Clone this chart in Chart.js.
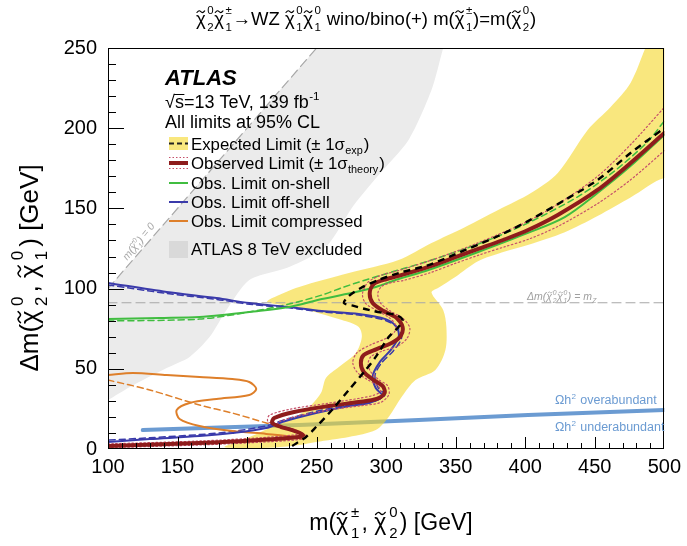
<!DOCTYPE html>
<html><head><meta charset="utf-8">
<script src="https://cdn.jsdelivr.net/npm/chart.js@4.4.0/dist/chart.umd.min.js"></script>
<style>html,body{margin:0;padding:0;background:#fff;}canvas{display:block;}</style>
</head><body>
<canvas id="c" width="687" height="546"></canvas>
<script>
const FONT = "'Liberation Sans', Arial, Helvetica, sans-serif";

// ---- axis ranges / ticks ----
const xRange = [100, 500];
const yRange = [0, 250];
const xMajorStep = 50, xMinorStep = 10;
const yMajorStep = 50, yMinorStep = 10;

// ---- data (m(chi1+-,chi2_0) [GeV], Delta m [GeV]) ----
const gray8TeV = [[96,96],[150,150],[200,200],[250,250],[262,262],[345,262],[341,250],[332.6,223.8],[316.1,192.6],[294.6,170.8],[276.7,152],[256.7,126],[230.2,113.5],[201.6,105.4],[185.2,86.7],[173,69.8],[158.7,57.4],[142.2,50.5],[115.7,38.7],[100,30.5],[96,28.5]];
const yellowBand = [[489,255],[486.4,250],[475.7,228.2],[461.4,213.2],[444.9,198.9],[423.4,172.1],[404.1,159.6],[380.5,149],[356.9,138.4],[332.6,128.4],[308.9,117.8],[273.2,109.7],[237.4,101],[218.1,94.1],[214.5,91.6],[237.4,87.9],[268.2,80.4],[280.3,76.1],[282.5,69.8],[278.2,59.9],[266,51.1],[256.7,44.3],[253.1,34.9],[242.4,24.3],[230.2,18.1],[215.9,13.1],[205.2,8.7],[192.3,4.4],[183.7,1.2],[200,0.4],[220,0.9],[237.4,2.5],[249.6,4.4],[273.2,7.5],[292.5,11.8],[301.8,20],[311.1,32.4],[321.1,43],[335.4,49.3],[342.6,61.7],[343.3,76.1],[341,86.7],[332.6,97.5],[337.6,100.5],[349.7,107.2],[366,117],[383,122.5],[403,127.5],[428,135],[452,145.3],[476,157],[500,169],[506,163],[506,255]];
const expected = [[232.4,1.9],[242.4,7.5],[249.6,13.7],[261,24.3],[273.2,36.8],[285.3,49.3],[292.5,57.4],[301.8,69.8],[308.9,76.1],[311.8,80.4],[307.5,83.5],[298.2,84.8],[287.5,86.7],[276.7,89.2],[269.6,91],[273.2,95.4],[281.8,100.4],[294.6,105.4],[308.9,109.7],[330.4,114.7],[356.9,124.1],[380.5,132.8],[402,142.1],[428.4,155.2],[452,167.7],[475.7,184.5],[500,200.1]];
const observed = [[100,1.9],[165.8,3.7],[208.8,5.6],[237.4,7.5],[240.2,8.7],[234.5,11.2],[224.5,13.7],[218.1,16.2],[219.5,19.3],[233.8,23.1],[258.9,26.8],[280.3,29.3],[293.2,31.2],[298.9,34.9],[297.5,39.3],[291.1,43],[283.9,48],[281.8,53.6],[283.9,58.6],[293.2,62.3],[303.9,66.1],[310.4,70.4],[311.8,76.1],[307.5,81.7],[298.2,86],[290.3,91],[288.2,97.3],[291.1,102.9],[300.4,106],[308.9,107.9],[330.4,113.5],[348.3,119.1],[366.2,124.7],[384.1,130.3],[402,136.5],[423.4,145.9],[452,161.5],[475.7,178.3],[500,197]];
const obsTheoryUp = [[100,3.2],[166,5],[209,7],[236,9],[238,10],[233,12.5],[223,15],[215,17],[216,21],[232,25],[258,28.5],[280,31.5],[291,33.5],[296,36],[294,39.5],[287,43],[279,48],[276,54],[279,60],[289,65],[300,69],[306,73],[307,77],[302,82],[293,86.5],[285,91],[283,97],[287,104],[297,108.5],[308,111],[330,117],[348,122.5],[366,128.5],[384,135],[402,142],[424,153],[452,170],[476,190],[500,213]];
const obsTheoryDown = [[100,0.8],[166,2.5],[209,4.2],[238,6],[243,8],[238,10.5],[228,12.5],[222,15],[223,17],[236,20.5],[260,24.5],[282,27],[296,29],[302,34],[301,39.5],[295,43],[289,48],[287,53],[289,57.5],[297,61],[308,64],[315,69],[317,75.5],[312,81.5],[303,86],[296,91],[294,97],[297,101.5],[305,104],[312,105],[332,110],[349,115.5],[367,121],[385,126],[403,131],[424,139],[452,153],[476,168],[500,186]];
const onShellObs = [[100,81],[137.2,81.7],[165.8,82.3],[182.3,83.5],[201.6,85.4],[230.2,88.5],[253.8,93.5],[278.2,97.9],[292.5,101],[308.9,106],[330.4,111.6],[366.2,122.8],[402,134.7],[428.4,144.6],[452,159.6],[475.7,176.4],[500,195.8]];
const onShellExp = [[100,79.8],[165.8,81],[201.6,85.4],[230.2,90.4],[253.8,96],[269.6,101],[294.6,107.9],[330.4,117.2],[366.2,127.8],[392.7,137.2],[416.3,147.1],[439.9,158.4],[464.2,173.3],[487.8,191.4],[500,204.5]];
const offShellObs = [[100,103.5],[142.2,97.9],[178,94.1],[201.6,91],[230.2,88.5],[253.8,86],[280.3,84.2],[299.6,81],[307.5,76.1],[309,69.8],[303.2,61.7],[295.4,54.2],[290.3,45.5],[292.5,38],[297.5,33],[287.5,28.7],[273.2,26.8],[249.6,22.4],[225.2,16.8],[213.8,13.1],[189.4,10],[165.8,8.1],[130.1,6.2],[100,4.4]];
const offShellExp = [[100,102.3],[142,97],[178,93.3],[202,90.2],[230,88],[254,85.5],[280,83.5],[300,80],[309,75],[311,69],[305,61],[297,54],[292,46],[294,38.5],[299,33.5],[289,29],[274,27.5],[250,23.5],[226,18],[214,14.5],[190,11],[166,9],[130,7],[100,5.5]];
const compressedObs = [[100,46.1],[117.9,47.4],[142.2,46.1],[165.8,44.9],[189.4,43.6],[201.6,41.8],[206.6,37.4],[201.6,33.7],[178,31.2],[158.7,28.7],[149.4,24.3],[151.5,18.7],[165.8,14.3],[189.4,11.2],[213.8,9.4],[235.2,7.5],[239.5,6.2]];
const compressedExp = [[100,43],[130,36.8],[165.8,27.4],[189.4,22.4],[213.8,16.2],[237.4,10],[244.5,7.5]];
const omegaLine = [[125,11.8],[180,13.4],[237.4,15],[323.3,18.1],[402,21.2],[500,24.3]];
const mZLine = [[100,91.19],[500,91.19]];
const masslessLine = [[100,100],[250,250]];

const pts = a => a.map(p => ({x: p[0], y: p[1]}));

// ---- colours ----
const C = {
  gray: '#ebebeb', grayBox: '#d9d9d9', yellow: 'rgba(245,215,40,0.6)',
  obs: '#8e1c1c', dot: '#c5506a', green: '#40bd40', blue: '#3a3aaa',
  orange: '#de7f2a', omega: '#6b9bd2', ref: '#a8a8a8'
};

function ds(data, o) {
  return Object.assign({data: pts(data), pointRadius: 0, borderWidth: 2, fill: false, tension: 0.3, borderCapStyle: 'round', borderJoinStyle: 'round'}, o);
}

// ---- rich text helper ----
function drawTilde(ctx, cx, yt, w, s) {
  const a = 0.045 * s;
  ctx.save(); ctx.setLineDash([]); ctx.lineWidth = Math.max(0.8, 0.06 * s); ctx.lineCap = 'round';
  ctx.beginPath();
  ctx.moveTo(cx - w/2, yt + a);
  ctx.bezierCurveTo(cx - w/4, yt - 2*a, cx - w/8, yt - 1.2*a, cx, yt);
  ctx.bezierCurveTo(cx + w/8, yt + 1.2*a, cx + w/4, yt + 2*a, cx + w/2, yt - a);
  ctx.stroke(); ctx.restore();
}
function drawRich(ctx, parts, x, y, o) {
  const s = o.size, ss = s * (o.scriptScale || 0.65);
  const st = o.style ? o.style + ' ' : '';
  const fb = st + s + 'px ' + FONT, fs = st + ss + 'px ' + FONT;
  const supDy = o.supDy != null ? o.supDy * s : 0.45 * s;
  const subDy = o.subDy != null ? o.subDy * s : 0.28 * s;
  const gapK = o.gap != null ? o.gap : 0.06;
  const afterK = o.after != null ? o.after : 0.06;
  const italic = (o.style || '').includes('italic');
  const items = parts.map(p => {
    ctx.font = fb;
    if (typeof p === 'string') return {kind: 't', t: p, w: ctx.measureText(p).width};
    const base = p.chi ? 'χ' : (p.t || '');
    const wb = base ? ctx.measureText(base).width : 0;
    ctx.font = fs;
    const wu = p.sup ? ctx.measureText(p.sup).width : 0;
    const wd = p.sub ? ctx.measureText(p.sub).width : 0;
    const gap = base ? gapK * s : 0.02 * s;
    return {kind: 's', base, chi: p.chi, sup: p.sup, sub: p.sub, wb, gap, w: wb + gap + Math.max(wu, wd) + afterK * s};
  });
  const total = items.reduce((a, b) => a + b.w, 0);
  let cx = o.align === 'center' ? x - total/2 : (o.align === 'right' ? x - total : x);
  ctx.fillStyle = o.color || '#000'; ctx.strokeStyle = o.color || '#000';
  ctx.textAlign = 'left'; ctx.textBaseline = 'alphabetic';
  for (const it of items) {
    ctx.font = fb;
    if (it.kind === 't') { ctx.fillText(it.t, cx, y); cx += it.w; continue; }
    if (it.base) ctx.fillText(it.base, cx, y);
    if (it.chi) drawTilde(ctx, cx + it.wb * 0.5 + (italic ? 0.1 * s : 0), y - 0.72 * s, 0.42 * s, s);
    ctx.font = fs;
    const sx = cx + it.wb + it.gap;
    if (it.sup) ctx.fillText(it.sup, sx, y - supDy);
    if (it.sub) ctx.fillText(it.sub, sx, y + subDy);
    cx += it.w;
  }
  return total;
}

const decor = {
  id: 'decor',
  afterDraw(chart) {
    const ctx = chart.ctx, a = chart.chartArea, xs = chart.scales.x, ys = chart.scales.y;
    ctx.save();
    ctx.setLineDash([]); ctx.lineCap = 'butt'; ctx.globalAlpha = 1; ctx.globalCompositeOperation = 'source-over';
    // frame
    ctx.strokeStyle = '#000'; ctx.lineWidth = 1;
    ctx.strokeRect(Math.round(a.left) + 0.5, Math.round(a.top) + 0.5, Math.round(a.right - a.left) - 1, Math.round(a.bottom - a.top) - 1);
    // ticks (inward, ROOT style) drawn as thin filled bars
    ctx.fillStyle = '#000';
    const L0 = Math.round(a.left), B0 = Math.round(a.bottom);
    for (let v = xRange[0]; v <= xRange[1]; v += xMinorStep) {
      const px = Math.round(xs.getPixelForValue(v));
      const L = (v % xMajorStep === 0) ? 12 : 6;
      ctx.fillRect(Math.min(px, Math.round(a.right) - 1), B0 - L, 1, L);
    }
    for (let v = yRange[0]; v <= yRange[1]; v += yMinorStep) {
      const py = Math.round(ys.getPixelForValue(v));
      const L = (v % yMajorStep === 0) ? 16 : 8;
      ctx.fillRect(L0, Math.min(py, B0 - 1), L, 1);
    }

    // title
    drawRich(ctx, [{chi:1,sup:'0',sub:'2'},{chi:1,sup:'±',sub:'1'},'→WZ ',{chi:1,sup:'0',sub:'1'},{chi:1,sup:'0',sub:'1'},' wino/bino(+) m(',{chi:1,sup:'±',sub:'1'},')=m(',{chi:1,sup:'0',sub:'2'},')'],
      366, 25, {size: 18.5, align: 'center', supDy: 0.6, subDy: 0.33, scriptScale: 0.62, gap: 0.08, after: 0.04});

    // axis titles
    drawRich(ctx, ['m(',{chi:1,sup:'±',sub:'1'},', ',{chi:1,sup:'0',sub:'2'},') [GeV]'], 391, 530, {size: 23, align: 'center', supDy: 0.58, subDy: 0.35, gap: 0.12, after: 0.1});
    ctx.save(); ctx.translate(38, 268); ctx.rotate(-Math.PI/2);
    drawRich(ctx, ['Δm(',{chi:1,sup:'0',sub:'2'},', ',{chi:1,sup:'0',sub:'1'},') [GeV]'], 0, 0, {size: 26, align: 'center', supDy: 0.58, subDy: 0.36, gap: 0.16, after: 0.16});
    ctx.restore();

    // ATLAS block
    ctx.fillStyle = '#000'; ctx.textBaseline = 'alphabetic'; ctx.textAlign = 'left';
    ctx.font = 'italic bold 22px ' + FONT; ctx.fillText('ATLAS', 165, 85);
    drawRich(ctx, ['√s=13 TeV, 139 fb',{sup:'-1'}], 165, 108, {size: 18, supDy: 0.42});
    ctx.font = '18px ' + FONT;
    const wr = ctx.measureText('√').width, wsch = ctx.measureText('s').width;
    ctx.strokeStyle = '#000'; ctx.beginPath(); ctx.lineWidth = 1; ctx.moveTo(165 + wr - 1, 94.5); ctx.lineTo(165 + wr + wsch + 0.5, 94.5); ctx.stroke();
    ctx.fillStyle = '#000'; ctx.font = '18px ' + FONT; ctx.fillText('All limits at 95% CL', 165, 128);

    // legend
    const lx0 = 169, lx1 = 188, tx = 191, ls = 16.8;
    ctx.fillStyle = C.yellow; ctx.fillRect(lx0, 137, lx1 - lx0, 13);
    ctx.strokeStyle = '#222'; ctx.lineWidth = 2; ctx.setLineDash([5, 3]);
    ctx.beginPath(); ctx.moveTo(lx0, 143.5); ctx.lineTo(lx1, 143.5); ctx.stroke(); ctx.setLineDash([]);
    drawRich(ctx, ['Expected Limit (± 1σ',{sub:'exp'},')'], tx, 150, {size: ls, subDy: 0.25});
    ctx.strokeStyle = C.dot; ctx.lineWidth = 1; ctx.setLineDash([1.5, 2]);
    ctx.beginPath(); ctx.moveTo(lx0, 157.5); ctx.lineTo(lx1, 157.5); ctx.moveTo(lx0, 168.5); ctx.lineTo(lx1, 168.5); ctx.stroke(); ctx.setLineDash([]);
    ctx.strokeStyle = C.obs; ctx.lineWidth = 4;
    ctx.beginPath(); ctx.moveTo(lx0, 163); ctx.lineTo(lx1, 163); ctx.stroke();
    drawRich(ctx, ['Observed Limit (± 1σ',{sub:'theory'},')'], tx, 169, {size: ls, subDy: 0.25});
    const lines = [[C.green, 183, 'Obs. Limit on-shell'], [C.blue, 202, 'Obs. Limit off-shell'], [C.orange, 221, 'Obs. Limit compressed']];
    for (const [col, yy, txt] of lines) {
      ctx.strokeStyle = col; ctx.lineWidth = 2;
      ctx.beginPath(); ctx.moveTo(lx0, yy); ctx.lineTo(lx1, yy); ctx.stroke();
      ctx.fillStyle = '#000'; ctx.font = ls + 'px ' + FONT; ctx.fillText(txt, tx, yy + 6);
    }
    ctx.fillStyle = C.grayBox; ctx.fillRect(lx0, 241, lx1 - lx0, 17);
    ctx.fillStyle = '#000'; ctx.font = ls + 'px ' + FONT; ctx.fillText('ATLAS 8 TeV excluded', tx, 255);

    // annotations
    drawRich(ctx, ['Δm(',{chi:1,sup:'0',sub:'2'},{chi:1,sup:'0',sub:'1'},') = m',{sub:'Z'}], 527, 300, {size: 10.5, style: 'italic', color: '#a0a0a0'});
    ctx.save(); ctx.translate(138, 241); ctx.rotate(-51 * Math.PI / 180);
    drawRich(ctx, ['m(',{chi:1,sup:'0',sub:'1'},') = 0'], 0, 4, {size: 10.5, style: 'italic', color: '#a8a8a8', align: 'center'});
    ctx.restore();
    drawRich(ctx, ['Ωh',{sup:'2'},' overabundant'], 555, 404, {size: 12.5, color: C.omega, supDy: 0.42});
    drawRich(ctx, ['Ωh',{sup:'2'},' underabundant'], 555, 431, {size: 12.5, color: C.omega, supDy: 0.42});
    ctx.restore();
  }
};

const tickFont = {family: FONT, size: 20};
new Chart(document.getElementById('c'), {
  type: 'line',
  data: {
    datasets: [
      ds(gray8TeV, {fill: 'shape', backgroundColor: C.gray, borderColor: 'rgba(0,0,0,0)', borderWidth: 0, order: 30, tension: 0.25}),
      ds(omegaLine, {borderColor: C.omega, borderWidth: 4, order: 29, tension: 0.3}),
      ds(yellowBand, {fill: 'shape', backgroundColor: C.yellow, borderColor: 'rgba(0,0,0,0)', borderWidth: 0, order: 28, tension: 0.3}),
      ds(mZLine, {borderColor: C.ref, borderWidth: 1.2, borderDash: [9, 5], order: 27, tension: 0}),
      ds(masslessLine, {borderColor: C.ref, borderWidth: 1.2, borderDash: [9, 5], order: 27, tension: 0}),
      ds(onShellExp, {borderColor: C.green, borderWidth: 1.5, borderDash: [6, 4], order: 20}),
      ds(offShellExp, {borderColor: C.blue, borderWidth: 1.5, borderDash: [6, 4], order: 20}),
      ds(compressedExp, {borderColor: C.orange, borderWidth: 1.5, borderDash: [6, 4], order: 20}),
      ds(onShellObs, {borderColor: C.green, borderWidth: 2, order: 15}),
      ds(offShellObs, {borderColor: C.blue, borderWidth: 2, order: 15}),
      ds(compressedObs, {borderColor: C.orange, borderWidth: 2, order: 15}),
      ds(obsTheoryUp, {borderColor: C.dot, borderWidth: 1.2, borderDash: [1.5, 2.5], order: 10}),
      ds(obsTheoryDown, {borderColor: C.dot, borderWidth: 1.2, borderDash: [1.5, 2.5], order: 10}),
      ds(observed, {borderColor: C.obs, borderWidth: 4, order: 5}),
      ds(expected, {borderColor: '#000', borderWidth: 2.4, borderDash: [7, 5], borderCapStyle: 'butt', order: 2})
    ]
  },
  options: {
    responsive: false, animation: false, events: [],
    layout: {padding: {left: 0, right: 20, top: 48, bottom: 0}},
    plugins: {legend: {display: false}, tooltip: {enabled: false}, title: {display: false}},
    elements: {point: {radius: 0}},
    scales: {
      x: {type: 'linear', min: xRange[0], max: xRange[1],
          ticks: {stepSize: xMajorStep, color: '#000', font: tickFont, padding: 6, maxRotation: 0, autoSkip: false},
          grid: {display: false, drawTicks: false}, border: {display: false},
          afterFit(s) { s.height = 97; }},
      y: {type: 'linear', min: yRange[0], max: yRange[1],
          ticks: {stepSize: yMajorStep, color: '#000', font: tickFont, padding: 11, autoSkip: false},
          grid: {display: false, drawTicks: false}, border: {display: false},
          afterFit(s) { s.width = 108; }}
    }
  },
  plugins: [decor]
});
</script>
</body></html>
